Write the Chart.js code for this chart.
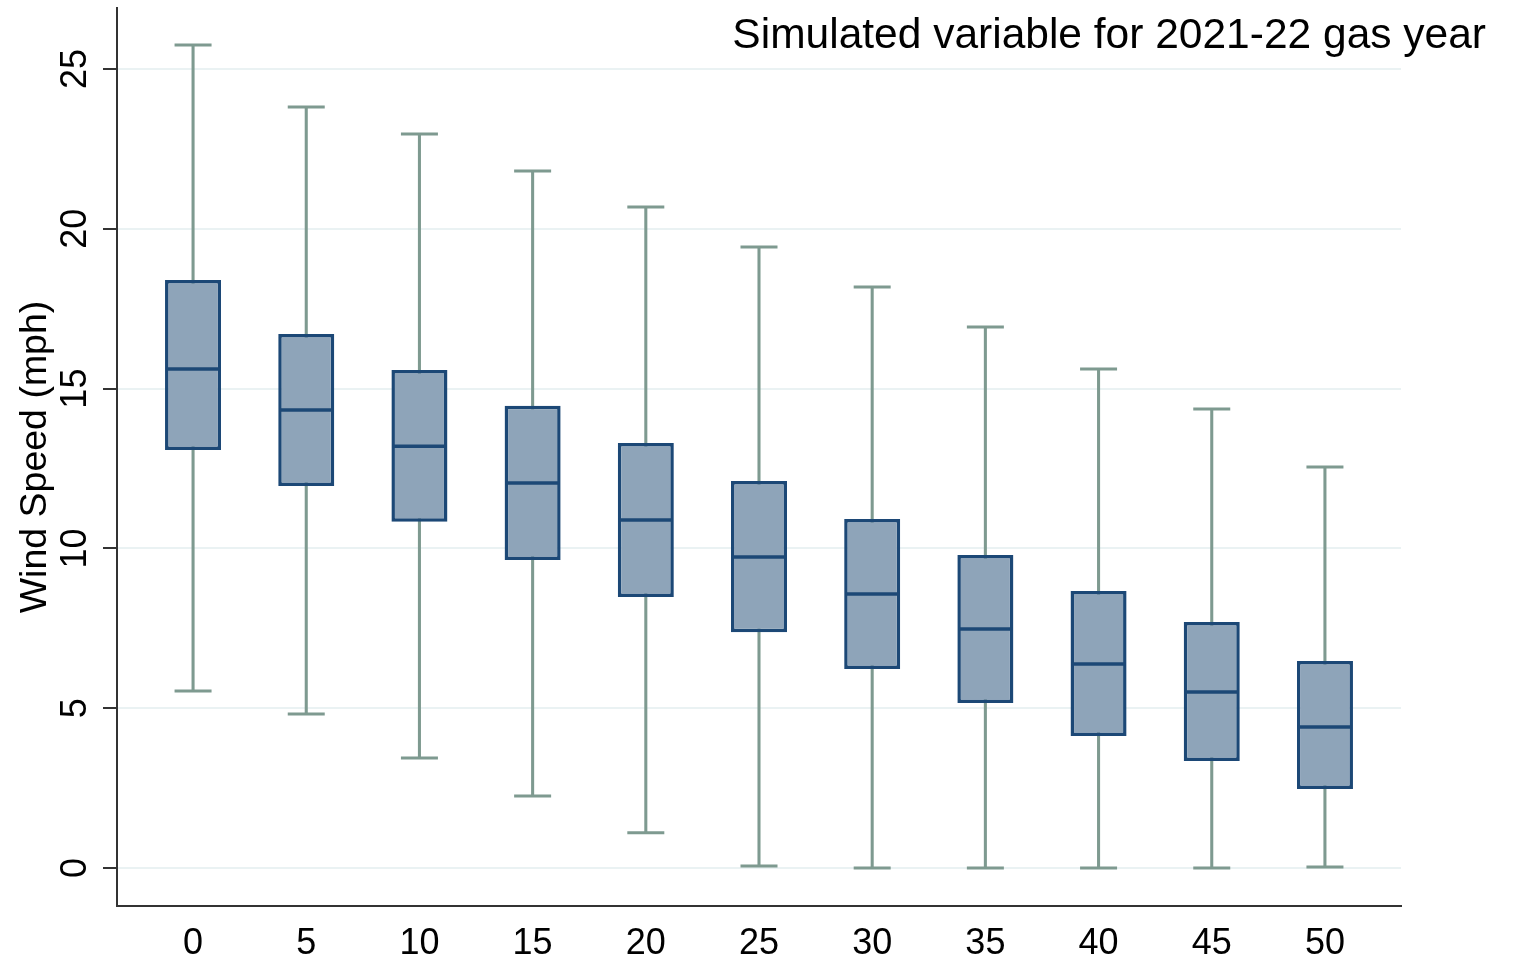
<!DOCTYPE html>
<html>
<head>
<title>Wind speed box plot</title>
<script src="https://cdn.jsdelivr.net/npm/chart.js"></script>
<style>
  body { margin: 0; background: #fff; }
</style>
</head>
<body>
<canvas id="boxChart" width="1517" height="957"></canvas>
<script>
// values
const groups      = [0, 5, 10, 15, 20, 25, 30, 35, 40, 45, 50];
const whiskerLow  = [5.54, 4.82, 3.44, 2.25, 1.10, 0.06, 0.00, 0.00, 0.00, 0.00, 0.03];
const q1          = [13.08, 11.95, 10.83, 9.64, 8.48, 7.38, 6.23, 5.16, 4.13, 3.35, 2.47];
const medians     = [15.61, 14.33, 13.20, 12.05, 10.89, 9.73, 8.57, 7.48, 6.38, 5.51, 4.41];
const q3          = [18.40, 16.71, 15.58, 14.46, 13.30, 12.11, 10.92, 9.79, 8.67, 7.70, 6.48];
const whiskerHigh = [25.75, 23.81, 22.97, 21.81, 20.68, 19.43, 18.18, 16.93, 15.61, 14.36, 12.55];
const yTicks = [0, 5, 10, 15, 20, 25];
const chartTitle = 'Simulated variable for 2021-22 gas year';
const yTitle = 'Wind Speed (mph)';

const boxFill = 'rgb(142,164,185)';
const boxLine = 'rgb(28,72,118)';
const whiskerCol = 'rgb(126,154,144)';
const font = '"Liberation Sans", Arial, sans-serif';

// medians, whisker caps, rotated y labels and the title.
// line datasets would push the chart area down (point overflow), so these go here
const boxExtras = {
  id: 'boxExtras',
  afterDatasetsDraw(chart) {
    const ctx = chart.ctx;
    const xs = chart.scales.x, ys = chart.scales.y;
    ctx.save();
    ctx.lineCap = 'butt';
    ctx.lineWidth = 3;
    ctx.strokeStyle = whiskerCol;
    groups.forEach((g, i) => {
      const cx = xs.getPixelForValue(g);
      [whiskerLow[i], whiskerHigh[i]].forEach(v => {
        const py = ys.getPixelForValue(v);
        ctx.beginPath();
        ctx.moveTo(cx - 18.5, py);
        ctx.lineTo(cx + 18.5, py);
        ctx.stroke();
      });
    });
    ctx.lineWidth = 3.5;
    ctx.strokeStyle = boxLine;
    groups.forEach((g, i) => {
      const cx = xs.getPixelForValue(g);
      const py = ys.getPixelForValue(medians[i]);
      ctx.beginPath();
      ctx.moveTo(cx - 27, py);
      ctx.lineTo(cx + 27, py);
      ctx.stroke();
    });
    ctx.restore();
  },
  afterDraw(chart) {
    const ctx = chart.ctx;
    const y = chart.scales.y;
    ctx.save();
    ctx.fillStyle = '#000';
    ctx.font = '36px ' + font;
    ctx.textAlign = 'center';
    ctx.textBaseline = 'middle';
    yTicks.forEach(v => {
      ctx.save();
      ctx.translate(76, y.getPixelForValue(v));
      ctx.rotate(-Math.PI / 2);
      ctx.fillText(String(v), 0, 0);
      ctx.restore();
    });
    ctx.font = '42.5px ' + font;
    ctx.textAlign = 'right';
    ctx.textBaseline = 'alphabetic';
    ctx.fillText(chartTitle, 1486, 48);
    ctx.restore();
  }
};

const ctx = document.getElementById('boxChart').getContext('2d');
new Chart(ctx, {
  type: 'bar',
  data: {
    datasets: [
      {
        label: 'box',
        data: groups.map((g, i) => ({x: g, y: [q1[i], q3[i]]})),
        backgroundColor: boxFill,
        borderColor: boxLine,
        borderWidth: 3.5,
        borderSkipped: false,
        grouped: false,
        barPercentage: 0.495,
        categoryPercentage: 1,
        order: 1
      },
      {
        label: 'whisker',
        data: groups.map((g, i) => ({x: g, y: [whiskerLow[i], whiskerHigh[i]]})),
        backgroundColor: whiskerCol,
        borderWidth: 0,
        grouped: false,
        barPercentage: 0.027,
        categoryPercentage: 1,
        order: 2
      }
    ]
  },
  options: {
    responsive: false,
    animation: false,
    events: [],
    layout: { padding: { top: 8, right: 116, left: 0, bottom: 0 } },
    plugins: {
      legend: { display: false },
      tooltip: { enabled: false }
    },
    scales: {
      x: {
        type: 'linear',
        position: 'bottom',
        offset: false,
        min: -3.36,
        max: 53.36,
        afterBuildTicks: s => { s.ticks = groups.map(v => ({value: v})); },
        afterFit: s => { s.height = 51; },
        grid: { display: false, drawTicks: false },
        border: { display: true, color: '#333', width: 2 },
        ticks: {
          color: '#000',
          padding: 16,
          maxRotation: 0,
          font: { family: font, size: 36 }
        }
      },
      y: {
        min: -1.19,
        max: 26.91,
        afterBuildTicks: s => { s.ticks = yTicks.map(v => ({value: v})); },
        afterFit: s => { s.width = 117; },
        grid: {
          color: 'rgb(234,242,243)',
          lineWidth: 2,
          tickLength: 14,
          tickColor: '#333',
          tickWidth: 2
        },
        border: { display: true, color: '#333', width: 2 },
        ticks: { display: false },
        title: {
          display: true,
          text: yTitle,
          color: '#000',
          padding: { top: 13 },
          font: { family: font, size: 37.5 }
        }
      }
    }
  },
  plugins: [boxExtras]
});
</script>
</body>
</html>
